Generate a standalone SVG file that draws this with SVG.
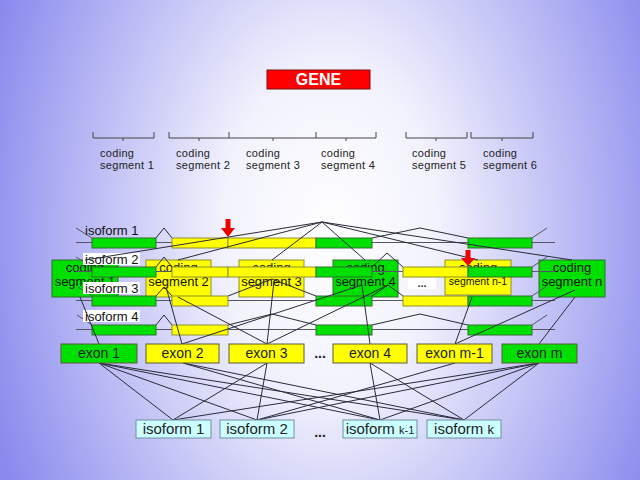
<svg xmlns="http://www.w3.org/2000/svg" width="640" height="480" viewBox="0 0 640 480">
<defs>
<radialGradient id="bg" gradientUnits="userSpaceOnUse" cx="330" cy="230" r="360" gradientTransform="translate(330 230) scale(1 1.5) translate(-330 -230)">
<stop offset="0" stop-color="#ffffff"/>
<stop offset="0.3" stop-color="#f2f2fd"/>
<stop offset="1" stop-color="#8a8aee"/>
</radialGradient>
<style>
text{font-family:"Liberation Sans",Arial,sans-serif;}
.g{fill:#00e000;stroke:#2f6f2f;stroke-width:1;}
.y{fill:#ffff00;stroke:#8f8f30;stroke-width:1;}
.ex{stroke:#5a5a3a;stroke-width:1;}
.iso{fill:#ccffff;stroke:#6f8fa0;stroke-width:1;}
.ln{stroke:#2a2a3a;stroke-width:1;fill:none;}
.rl{stroke:#555566;stroke-width:1;fill:none;}
.br{stroke:#444;stroke-width:1;fill:none;}
.cs{font-size:11px;fill:#222;letter-spacing:0.3px;}
.seg{font-size:13px;fill:#111;text-anchor:middle;}
.exl{font-size:14px;fill:#222;text-anchor:middle;}
.isl{font-size:15px;fill:#222;text-anchor:middle;}
.rowl{font-size:13px;fill:#111;}
.dots{font-size:14px;fill:#222;text-anchor:middle;font-weight:bold;}
.arr{fill:#ee0000;}
</style>
</defs>
<rect x="0" y="0" width="640" height="480" fill="url(#bg)"/>

<g id="gene">
<rect x="267" y="70" width="103" height="19" fill="#ff0000" stroke="#7a1010" stroke-width="1"/>
<text x="318.5" y="85" font-size="16" font-weight="bold" fill="#ffffff" text-anchor="middle">GENE</text>
</g>

<g id="brackets">
<path class="br" d="M93,132 V138 H154 V132 M123,138 V141"/>
<path class="br" d="M169,132 V138 H229 M199,138 V141"/>
<path class="br" d="M229,132 V138 H316 V132 M273,138 V141"/>
<path class="br" d="M316,138 H376 V132 M346,138 V141"/>
<path class="br" d="M406,132 V138 H467 V132 M436,138 V141"/>
<path class="br" d="M471,132 V138 H533 V132 M502,138 V141"/>
</g>
<g id="bracket-labels">
<text class="cs" x="100" y="157">coding</text><text class="cs" x="100" y="169">segment 1</text>
<text class="cs" x="176" y="157">coding</text><text class="cs" x="176" y="169">segment 2</text>
<text class="cs" x="246" y="157">coding</text><text class="cs" x="246" y="169">segment 3</text>
<text class="cs" x="321" y="157">coding</text><text class="cs" x="321" y="169">segment 4</text>
<text class="cs" x="412" y="157">coding</text><text class="cs" x="412" y="169">segment 5</text>
<text class="cs" x="483" y="157">coding</text><text class="cs" x="483" y="169">segment 6</text>
</g>

<g id="seg1"><rect class="g" x="52" y="260" width="66" height="37"/><text class="seg" x="85" y="272">coding</text><text class="seg" x="85" y="286">segment 1</text></g>
<g id="seg2"><rect class="y" x="146" y="260" width="65" height="37"/><text class="seg" x="178.5" y="272">coding</text><text class="seg" x="178.5" y="286">segment 2</text></g>
<g id="seg3"><rect class="y" x="239" y="260" width="65" height="37"/><text class="seg" x="271.5" y="272">coding</text><text class="seg" x="271.5" y="286">segment 3</text></g>
<g id="seg4"><rect class="g" x="333" y="260" width="65" height="37"/><text class="seg" x="365.5" y="272">coding</text><text class="seg" x="365.5" y="286">segment 4</text></g>
<g id="segdots"><rect x="408" y="278" width="28" height="11" fill="#ffffff"/><text x="422" y="287" font-size="11" font-weight="bold" fill="#333" text-anchor="middle">...</text></g>
<g id="segn1"><rect class="y" x="445" y="260" width="66" height="35"/><text class="seg" x="478" y="272" font-size="12">coding</text><text class="seg" x="478" y="285" style="font-size:10.5px">segment n-1</text></g>
<g id="segn"><rect class="g" x="539" y="260" width="66" height="37"/><text class="seg" x="572" y="272">coding</text><text class="seg" x="572" y="286">segment n</text></g>

<g id="isoform-row-1">
<path class="rl" d="M76,242.5 H555 M76,228 L92,238 M532,238 L547,228"/>
<path class="ln" d="M156,238 L164,228 L172,238 M372,238 L420,228 L468,238"/>
<rect class="g" x="92" y="238" width="64" height="10"/>
<rect class="y" x="172" y="238" width="56" height="10"/>
<rect class="y" x="228" y="238" width="88" height="10"/>
<rect class="g" x="316" y="238" width="56" height="10"/>
<rect class="g" x="468" y="238" width="64" height="10"/>
<text class="rowl" x="85" y="235">isoform 1</text>
</g>
<g id="isoform-row-2">
<path class="rl" d="M76,271.5 H555 M76,257 L92,267 M532,267 L547,257"/>
<path class="ln" d="M156,267 L164,257 L172,267 M372,267 L387,253 L403,267"/>
<rect class="g" x="92" y="267" width="64" height="10"/>
<rect class="y" x="172" y="267" width="56" height="10"/>
<rect class="y" x="228" y="267" width="88" height="10"/>
<rect class="g" x="316" y="267" width="56" height="10"/>
<rect class="y" x="403" y="267" width="65" height="10"/>
<rect class="g" x="468" y="267" width="64" height="10"/>
<rect x="83" y="253" width="57" height="12" fill="#ffffff"/>
<text class="rowl" x="85" y="264">isoform 2</text>
</g>
<g id="isoform-row-3">
<path class="rl" d="M76,300.5 H555 M78,287 L92,296 M532,296 L547,286"/>
<path class="ln" d="M156,296 L164,287 L172,296 M228,296 L272,279 L316,296 M372,296 L388,285 L403,296"/>
<rect class="g" x="92" y="296" width="64" height="10"/>
<rect class="y" x="172" y="296" width="56" height="10"/>
<rect class="g" x="316" y="296" width="56" height="10"/>
<rect class="y" x="403" y="296" width="65" height="10"/>
<rect class="g" x="468" y="296" width="64" height="10"/>
<rect x="83" y="282" width="57" height="12" fill="#ffffff"/>
<text class="rowl" x="85" y="293">isoform 3</text>
</g>
<g id="isoform-row-4">
<path class="rl" d="M76,329.5 H555 M77,315 L92,325 M532,325 L547,315"/>
<path class="ln" d="M156,325 L164,315 L172,325 M228,325 L272,314 L316,325 M372,325 L420,314 L468,325"/>
<rect class="g" x="92" y="325" width="64" height="10"/>
<rect class="y" x="172" y="325" width="56" height="10"/>
<rect class="g" x="316" y="325" width="56" height="10"/>
<rect class="g" x="468" y="325" width="64" height="10"/>
<rect x="83" y="310" width="57" height="12" fill="#ffffff"/>
<text class="rowl" x="85" y="321">isoform 4</text>
</g>

<g id="connectors">
<path class="ln" d="M322,222 L85,260 M322,222 L178,260 M322,222 L272,260 M322,222 L365,260 M322,222 L478,260 M322,222 L572,260"/>
<path class="ln" d="M80,297 L99,344 M166,287 L182,344 M178,297 L267,344 M274,281 L267,344 M388,285 L267,344 M362,285 L182,344 M362,285 L370,344 M472,297 L455,344 M575,290 L455,344 M575,297 L539,344"/>
<path class="ln" d="M99,363 L173,420 M99,363 L257,420 M99,363 L380,420 M99,363 L464,420 M183,363 L380,420 M183,363 L464,420 M267,363 L173,420 M267,363 L257,420 M370,363 L380,420 M370,363 L464,420 M455,363 L257,420 M539,363 L173,420 M539,363 L257,420 M539,363 L380,420 M539,363 L464,420"/>
</g>

<g id="arrows">
<path class="arr" d="M225.5,219 H230.5 V228 H235 L228,237 L221,228 H225.5 Z"/>
<path class="arr" d="M465.5,250 H470.5 V258 H475 L468,266 L461,258 H465.5 Z"/>
</g>

<g id="exon1"><rect class="g ex" x="61" y="344" width="76" height="19"/><text class="exl" x="99" y="358">exon 1</text></g>
<g id="exon2"><rect class="y ex" x="146" y="344" width="73" height="19"/><text class="exl" x="182.5" y="358">exon 2</text></g>
<g id="exon3"><rect class="y ex" x="229" y="344" width="75" height="19"/><text class="exl" x="266.5" y="358">exon 3</text></g>
<text class="dots" x="320" y="358">...</text>
<g id="exon4"><rect class="y ex" x="333" y="344" width="74" height="19"/><text class="exl" x="370" y="358">exon 4</text></g>
<g id="exonm1"><rect class="y ex" x="417" y="344" width="75" height="19"/><text class="exl" x="454.5" y="358">exon m-1</text></g>
<g id="exonm"><rect class="g ex" x="502" y="344" width="75" height="19"/><text class="exl" x="539.5" y="358">exon m</text></g>

<g id="iso1"><rect class="iso" x="136" y="420" width="75" height="18"/><text class="isl" x="173.5" y="434">isoform 1</text></g>
<g id="iso2"><rect class="iso" x="220" y="420" width="74" height="18"/><text class="isl" x="257" y="434">isoform 2</text></g>
<text class="dots" x="320" y="437">...</text>
<g id="isok1"><rect class="iso" x="343" y="420" width="74" height="18"/><text class="isl" x="380" y="434">isoform <tspan font-size="11">k-1</tspan></text></g>
<g id="isok"><rect class="iso" x="427" y="420" width="74" height="18"/><text class="isl" x="464" y="434">isoform <tspan font-size="13">k</tspan></text></g>
</svg>
